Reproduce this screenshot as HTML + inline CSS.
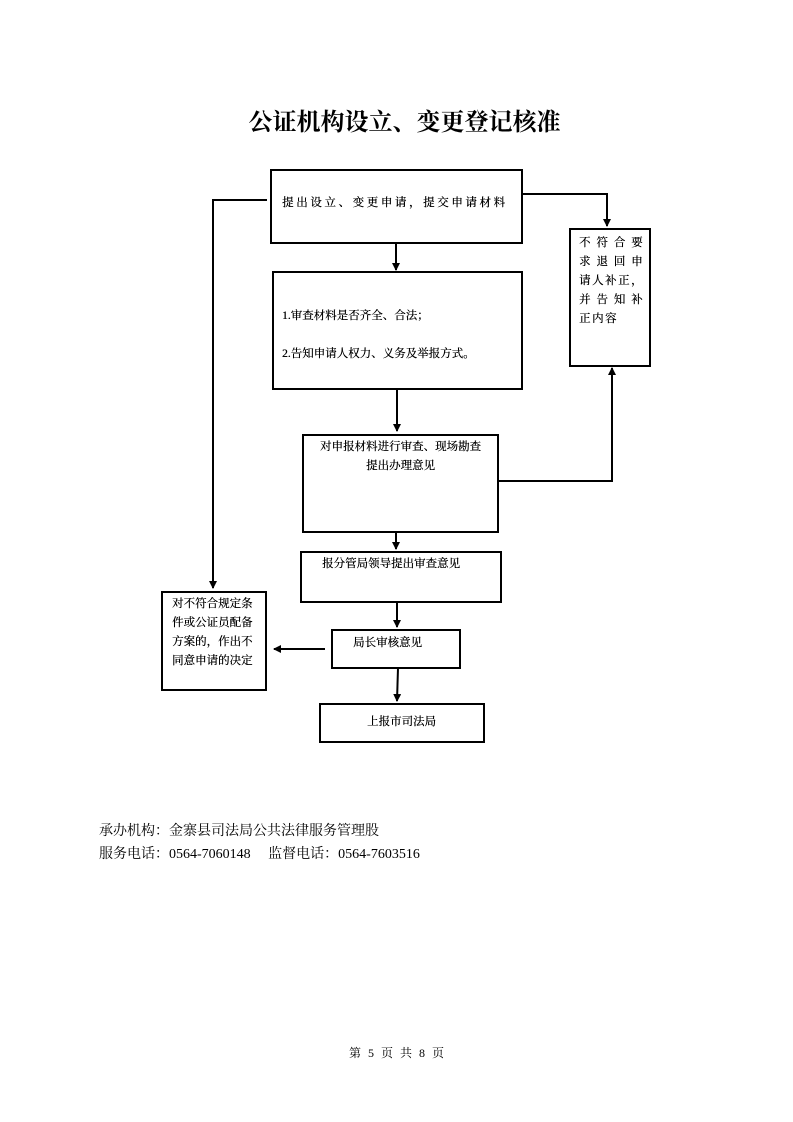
<!DOCTYPE html>
<html><head><meta charset="utf-8"><style>
body{margin:0;width:793px;height:1122px;background:#fff;position:relative;font-family:"Liberation Serif","Noto Serif CJK SC",serif;color:#000}
.t{position:absolute;white-space:nowrap}
.b{position:absolute;border:2px solid #000;box-sizing:border-box;font-size:11.5px;line-height:19px;text-shadow:0.3px 0 0 #000}
</style></head><body>
<div class="t" style="left:0;width:793px;text-align:center;top:102px;font-size:24px;font-weight:bold;padding-left:16px;box-sizing:border-box">公证机构设立、变更登记核准</div>
<svg width="793" height="1122" style="position:absolute;left:0;top:0">
<defs><marker id="a" markerWidth="8" markerHeight="8" refX="7" refY="4" orient="auto" markerUnits="userSpaceOnUse"><path d="M0,0L8,4L0,8z"/></marker></defs>
<g stroke="#000" stroke-width="2" fill="none">
<polyline points="267,200 213,200 213,588" marker-end="url(#a)"/>
<polyline points="522,194 607,194 607,226" marker-end="url(#a)"/>
<line x1="396" y1="243" x2="396" y2="270" marker-end="url(#a)"/>
<line x1="397" y1="390" x2="397" y2="431" marker-end="url(#a)"/>
<polyline points="498,481 612,481 612,368" marker-end="url(#a)"/>
<line x1="396" y1="532" x2="396" y2="549" marker-end="url(#a)"/>
<line x1="397" y1="602" x2="397" y2="627" marker-end="url(#a)"/>
<line x1="325" y1="649" x2="274" y2="649" marker-end="url(#a)"/>
<line x1="398" y1="668" x2="397" y2="701" marker-end="url(#a)"/>
</g></svg>
<div class="b" style="left:270px;top:169px;width:253px;height:75px;padding:23px 0 0 10px;letter-spacing:2.6px">提出设立、变更申请，提交申请材料</div>
<div class="b" style="left:272px;top:271px;width:251px;height:119px;padding:24px 0 0 8px;line-height:38px">1.审查材料是否齐全、合法；<br>2.告知申请人权力、义务及举报方式。</div>
<div class="b" style="left:569px;top:228px;width:82px;height:139px;padding:4px 0 0 8px;letter-spacing:1.5px">不 符 合 要<br>求 退 回 申<br>请人补正，<br>并 告 知 补<br>正内容</div>
<div class="b" style="left:302px;top:434px;width:197px;height:99px;padding:2px 0 0 0;text-align:center">对申报材料进行审查、现场勘查<br>提出办理意见</div>
<div class="b" style="left:300px;top:551px;width:202px;height:52px;padding:2px 0 0 20px">报分管局领导提出审查意见</div>
<div class="b" style="left:161px;top:591px;width:106px;height:100px;padding:2px 0 0 9px">对不符合规定条<br>件或公证员配备<br>方案的，作出不<br>同意申请的决定</div>
<div class="b" style="left:331px;top:629px;width:130px;height:40px;padding:3px 0 0 20px">局长审核意见</div>
<div class="b" style="left:319px;top:703px;width:166px;height:40px;padding:8px 0 0 46px">上报市司法局</div>
<div class="t" style="left:99px;top:820px;font-size:14px">承办机构：金寨县司法局公共法律服务管理股</div>
<div class="t" style="left:99px;top:843px;font-size:14px">服务电话：0564-7060148&nbsp;&nbsp;&nbsp;&nbsp;&nbsp;监督电话：0564-7603516</div>
<div class="t" style="left:0;width:793px;text-align:center;top:1044px;font-size:12px;word-spacing:4px">第 5 页 共 8 页</div>
</body></html>
